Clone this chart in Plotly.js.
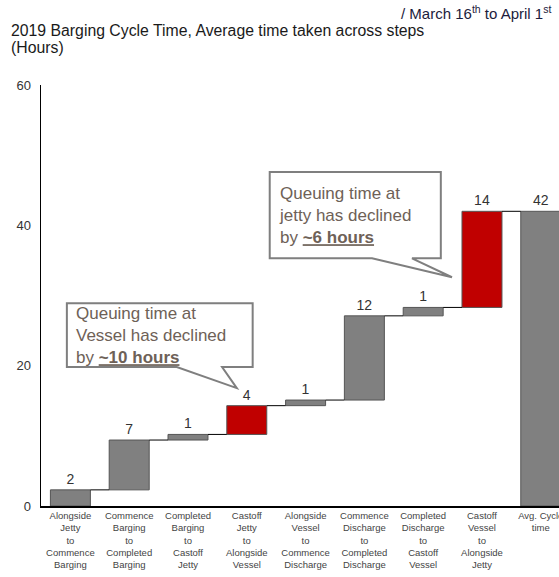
<!DOCTYPE html>
<html>
<head>
<meta charset="utf-8">
<script src="https://cdn.plot.ly/plotly-3.0.1.min.js"></script>
<style>html,body{margin:0;padding:0;background:#fff;}#chart{width:559px;height:577px;}</style>
</head>
<body>
<div id="chart"></div>
<script>
// ---- data ----
var stepLabels = [
  "Alongside<br>Jetty<br>to<br>Commence<br>Barging",
  "Commence<br>Barging<br>to<br>Completed<br>Barging",
  "Completed<br>Barging<br>to<br>Castoff<br>Jetty",
  "Castoff<br>Jetty<br>to<br>Alongside<br>Vessel",
  "Alongside<br>Vessel<br>to<br>Commence<br>Discharge",
  "Commence<br>Discharge<br>to<br>Completed<br>Discharge",
  "Completed<br>Discharge<br>to<br>Castoff<br>Vessel",
  "Castoff<br>Vessel<br>to<br>Alongside<br>Jetty",
  "Avg. Cycle<br>time"
];
var stepHours = [2.3, 7.1, 0.8, 4.1, 0.8, 12.0, 1.2, 13.7];
var totalHours = 42;
var highlightSteps = [3, 7];   // red bars (queuing steps)
var yTicks = [0, 20, 40, 60];

// ---- build waterfall from data ----
var n = stepHours.length;
var xs = [], bases = [], heights = [], colors = [], texts = [];
var cum = 0;
var levels = [];
for (var i = 0; i < n; i++) {
  xs.push(i); bases.push(cum); heights.push(stepHours[i]);
  colors.push(highlightSteps.indexOf(i) >= 0 ? "#c00000" : "#808080");
  texts.push(String(Math.round(stepHours[i])));
  cum += stepHours[i];
  levels.push(cum);
}
xs.push(n); bases.push(0); heights.push(totalHours); colors.push("#808080");
texts.push(String(Math.round(totalHours)));

var barW = 0.68;
var cx = [], cy = [];
for (var j = 0; j < n; j++) {
  cx.push(j + barW / 2, j + 1 - barW / 2, null);
  cy.push(levels[j], levels[j], null);
}

var font = "Liberation Sans, Arial, sans-serif";

var bars = {
  type: "bar", x: xs, y: heights, base: bases, width: barW,
  marker: {color: colors, line: {color: "#555555", width: 1}},
  text: texts, textposition: "outside", cliponaxis: false,
  textfont: {family: font, size: 14, color: "#333333"},
  hoverinfo: "skip", showlegend: false
};
var connectors = {
  type: "scatter", mode: "lines", x: cx, y: cy,
  line: {color: "#000000", width: 1}, hoverinfo: "skip", showlegend: false
};

function callout(x0, x1, y0, y1, tl, tp, tr, ty) {
  return "M" + x0 + "," + y1 + " L" + x1 + "," + y1 + " L" + x1 + "," + y0 +
    " L" + tr + "," + y0 + " L" + tp + "," + ty + " L" + tl + "," + y0 +
    " L" + x0 + "," + y0 + " Z";
}

var layout = {
  width: 559, height: 577,
  margin: {l: 41, r: 0, t: 85, b: 71},
  paper_bgcolor: "#ffffff", plot_bgcolor: "#ffffff",
  font: {family: font},
  xaxis: {
    range: [-0.5, 8.31], tickvals: xs, ticktext: stepLabels,
    showgrid: false, zeroline: false, showline: true, linecolor: "#000000", linewidth: 1.5,
    ticks: "", ticklabeloverflow: "allow",
    tickfont: {family: font, size: 9.5, color: "#444444"}, tickangle: 0, fixedrange: true
  },
  yaxis: {
    range: [0, 60], tickvals: yTicks, showgrid: false, zeroline: false,
    showline: true, linecolor: "#000000", linewidth: 1.5, ticks: "",
    ticklabelstandoff: 6,
    tickfont: {family: font, size: 13, color: "#333333"}, fixedrange: true
  },
  shapes: [
    {type: "path", xref: "x", yref: "y", layer: "above",
     path: callout(-0.06, 3.10, 19.8, 28.9, 1.81, 2.83, 2.58, 16.8),
     fillcolor: "#ffffff", line: {color: "#7f7f7f", width: 2}},
    {type: "path", xref: "x", yref: "y", layer: "above",
     path: callout(3.39, 6.30, 35.3, 47.6, 5.13, 6.49, 5.81, 32.6),
     fillcolor: "#ffffff", line: {color: "#7f7f7f", width: 2}}
  ],
  annotations: [
    {xref: "paper", yref: "paper", x: -0.062, y: 1.1306, xanchor: "left", yanchor: "middle",
     text: "2019 Barging Cycle Time, Average time taken across steps",
     align: "left", showarrow: false, font: {family: font, size: 15.8, color: "#1a1a1a"}},
    {xref: "paper", yref: "paper", x: -0.062, y: 1.0879, xanchor: "left", yanchor: "middle",
     text: "(Hours)",
     align: "left", showarrow: false, font: {family: font, size: 15.8, color: "#1a1a1a"}},
    {xref: "paper", yref: "paper", x: 0.988, y: 1.172, xanchor: "right", yanchor: "middle",
     text: "/ March 16<sup>th</sup> to April 1<sup>st</sup>",
     showarrow: false, font: {family: font, size: 15, color: "#1c1c3c"}},
    {xref: "x", yref: "y", x: 0.06, y: 24.35, xanchor: "left", yanchor: "middle", align: "left",
     text: "Queuing time at<br>Vessel has declined<br>by <b><u>~10 hours</u></b>",
     showarrow: false, font: {family: font, size: 17, color: "#6e6157"}},
    {xref: "x", yref: "y", x: 3.52, y: 41.45, xanchor: "left", yanchor: "middle", align: "left",
     text: "Queuing time at<br>jetty has declined<br>by <b><u>~6 hours</u></b>",
     showarrow: false, font: {family: font, size: 17, color: "#6e6157"}}
  ]
};

Plotly.newPlot("chart", [bars, connectors], layout, {displayModeBar: false, staticPlot: true});
</script>
</body>
</html>
